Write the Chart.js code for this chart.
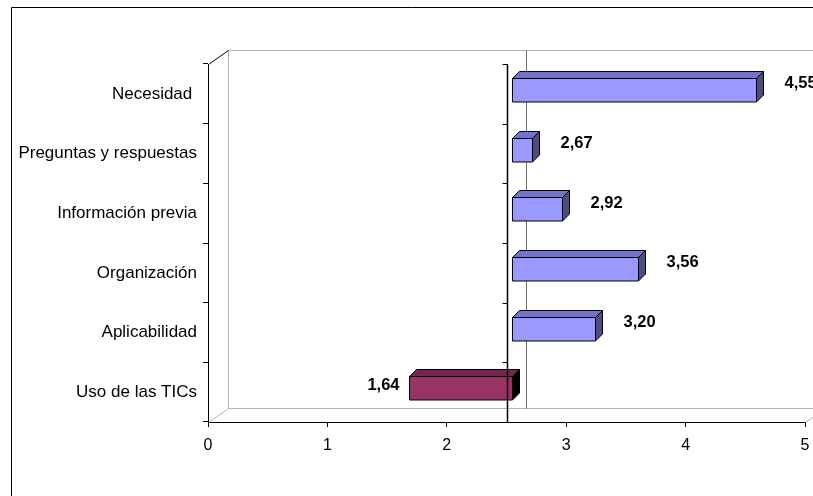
<!DOCTYPE html>
<html>
<head>
<meta charset="utf-8">
<script src="https://cdn.jsdelivr.net/npm/chart.js@4.4.1/dist/chart.umd.min.js"></script>
<style>
  html, body { margin: 0; padding: 0; background: #fff; }
  #wrap { width: 813px; height: 496px; position: relative; }
</style>
</head>
<body>
<div id="wrap"><canvas id="c" width="813" height="496"></canvas></div>
<script>
// Ratings per aspect (scale 0–5); the category axis crosses the value axis at 2.5
const categories = ['Necesidad ', 'Preguntas y respuestas', 'Información previa', 'Organización', 'Aplicabilidad', 'Uso de las TICs'];
const values = [4.55, 2.67, 2.92, 3.56, 3.20, 1.64];
const crossAt = 2.5;
const valueTicks = [0, 1, 2, 3, 4, 5];

const FONT = "'Liberation Sans', Arial, sans-serif";

// face colours: front, top, side
const blueFaces = ['#9999FF', '#7373CC', '#4D4D80'];
const plumFaces = ['#993366', '#732650', '#000000'];

// projection of the box walls and of each bar
const WALL = { dx: 20, dy: -14 };
const BAR_FRONT = { dx: 5, dy: -4 };
const BAR_DEPTH = { dx: 7, dy: -7 };

const fmt = v => v.toFixed(2).replace('.', ',');

function line(ctx, x1, y1, x2, y2, color, w) {
  ctx.save();
  ctx.strokeStyle = color;
  ctx.lineWidth = w || 1;
  ctx.beginPath();
  ctx.moveTo(x1, y1);
  ctx.lineTo(x2, y2);
  ctx.stroke();
  ctx.restore();
}

const box3d = {
  id: 'box3d',
  beforeDraw(chart) {
    const ctx = chart.ctx;
    // outer frame
    line(ctx, 11.5, 7.5, 813, 7.5, '#000');
    line(ctx, 11.5, 7.5, 11.5, 496, '#000');
  },
  beforeDatasetsDraw(chart) {
    const ctx = chart.ctx;
    const a = chart.chartArea;
    const xs = chart.scales.x;
    const L = Math.round(a.left) + 0.5, R = Math.round(a.right) + 0.5;
    const T = Math.round(a.top) + 0.5, B = Math.round(a.bottom) + 0.5;
    const grey = '#B4B4B4';
    // back wall and floor edges
    line(ctx, L + WALL.dx, T + WALL.dy, R + WALL.dx, T + WALL.dy, grey);
    line(ctx, L + WALL.dx, T + WALL.dy, L + WALL.dx, B + WALL.dy, grey);
    line(ctx, L + WALL.dx, B + WALL.dy, R + WALL.dx, B + WALL.dy, grey);
    line(ctx, L, B, L + WALL.dx, B + WALL.dy, grey);
    line(ctx, R, B, R + WALL.dx, B + WALL.dy, grey);
    // side wall top edge
    line(ctx, L, T, L + WALL.dx, T + WALL.dy, '#000');
    // crossing line on the back wall
    const xc = Math.round(xs.getPixelForValue(crossAt)) + 0.5;
    line(ctx, xc + WALL.dx - 1, T + WALL.dy, xc + WALL.dx - 1, B + WALL.dy, '#6E6E6E');
  },
  afterDatasetsDraw(chart) {
    const ctx = chart.ctx;
    const a = chart.chartArea;
    const xs = chart.scales.x;
    const ys = chart.scales.y;
    const meta = chart.getDatasetMeta(0);
    const faces = chart.data.datasets[0].faces;

    meta.data.forEach((el, i) => {
      const p = el.getProps(['x', 'y', 'base', 'height'], true);
      const left = Math.round(Math.min(p.x, p.base) + BAR_FRONT.dx) + 0.5;
      const right = Math.round(Math.max(p.x, p.base) + BAR_FRONT.dx) + 0.5;
      const top = Math.round(p.y - p.height / 2 + BAR_FRONT.dy) + 0.5;
      const bottom = Math.round(top + p.height);
      const [front, topC, side] = faces[i];
      const ddx = BAR_DEPTH.dx, ddy = BAR_DEPTH.dy;

      ctx.save();
      ctx.lineWidth = 1;
      ctx.strokeStyle = '#000';
      ctx.lineJoin = 'round';
      // top face
      ctx.fillStyle = topC;
      ctx.beginPath();
      ctx.moveTo(left, top);
      ctx.lineTo(left + ddx, top + ddy);
      ctx.lineTo(right + ddx, top + ddy);
      ctx.lineTo(right, top);
      ctx.closePath();
      ctx.fill(); ctx.stroke();
      // end face
      ctx.fillStyle = side;
      ctx.beginPath();
      ctx.moveTo(right, top);
      ctx.lineTo(right + ddx, top + ddy);
      ctx.lineTo(right + ddx, bottom + ddy);
      ctx.lineTo(right, bottom);
      ctx.closePath();
      ctx.fill(); ctx.stroke();
      // front face
      ctx.fillStyle = front;
      ctx.fillRect(left, top, right - left, bottom - top);
      ctx.strokeRect(left, top, right - left, bottom - top);
      ctx.restore();

      // value label
      const v = values[i];
      ctx.save();
      ctx.font = 'bold 16.5px ' + FONT;
      ctx.fillStyle = '#000';
      ctx.textBaseline = 'middle';
      if (v >= crossAt) {
        ctx.textAlign = 'left';
        ctx.fillText(fmt(v), right + 28, p.y - 10);
      } else {
        ctx.textAlign = 'right';
        ctx.fillText(fmt(v), left - 10, p.y - 7);
      }
      ctx.restore();
    });

    // category axis at the crossing value, with its tick marks
    const T = Math.round(a.top) + 0.5, B = Math.round(a.bottom) + 0.5;
    const xc = Math.round(xs.getPixelForValue(crossAt)) + 0.5;
    line(ctx, xc, T, xc, B, '#000', 1.5);
    for (let k = 0; k <= categories.length; k++) {
      const yy = Math.round(ys.getPixelForValue(k - 0.5)) + 0.5;
      line(ctx, xc - 5, yy, xc, yy, '#000');
    }
  }
};

new Chart(document.getElementById('c'), {
  type: 'bar',
  data: {
    labels: categories,
    datasets: [{
      data: values.map(v => [crossAt, v]),
      backgroundColor: 'rgba(0,0,0,0)',
      borderWidth: 0,
      faces: values.map(v => (v >= crossAt ? blueFaces : plumFaces)),
      barPercentage: 0.4,
      categoryPercentage: 1
    }]
  },
  options: {
    indexAxis: 'y',
    responsive: false,
    animation: false,
    events: [],
    layout: { padding: { top: 64, right: 8, bottom: 0, left: 0 } },
    plugins: { legend: { display: false }, tooltip: { enabled: false } },
    scales: {
      x: {
        type: 'linear',
        min: valueTicks[0],
        max: valueTicks[valueTicks.length - 1],
        afterBuildTicks: s => { s.ticks = valueTicks.map(v => ({ value: v })); },
        afterFit: s => { s.height = 74; s.paddingLeft = 0; s.paddingRight = 0; },
        ticks: { color: '#000', font: { family: FONT, size: 16 }, padding: 9, maxRotation: 0 },
        grid: { drawOnChartArea: false, drawTicks: true, tickLength: 5, color: '#000' },
        border: { display: true, color: '#000', width: 1 }
      },
      y: {
        type: 'category',
        afterFit: s => { s.width = 208; s.paddingTop = 0; s.paddingBottom = 0; },
        ticks: { color: '#000', font: { family: FONT, size: 17 }, padding: 6, autoSkip: false },
        grid: { offset: true, drawOnChartArea: false, drawTicks: true, tickLength: 5, color: '#000' },
        border: { display: true, color: '#000', width: 1 }
      }
    }
  },
  plugins: [box3d]
});
</script>
</body>
</html>
